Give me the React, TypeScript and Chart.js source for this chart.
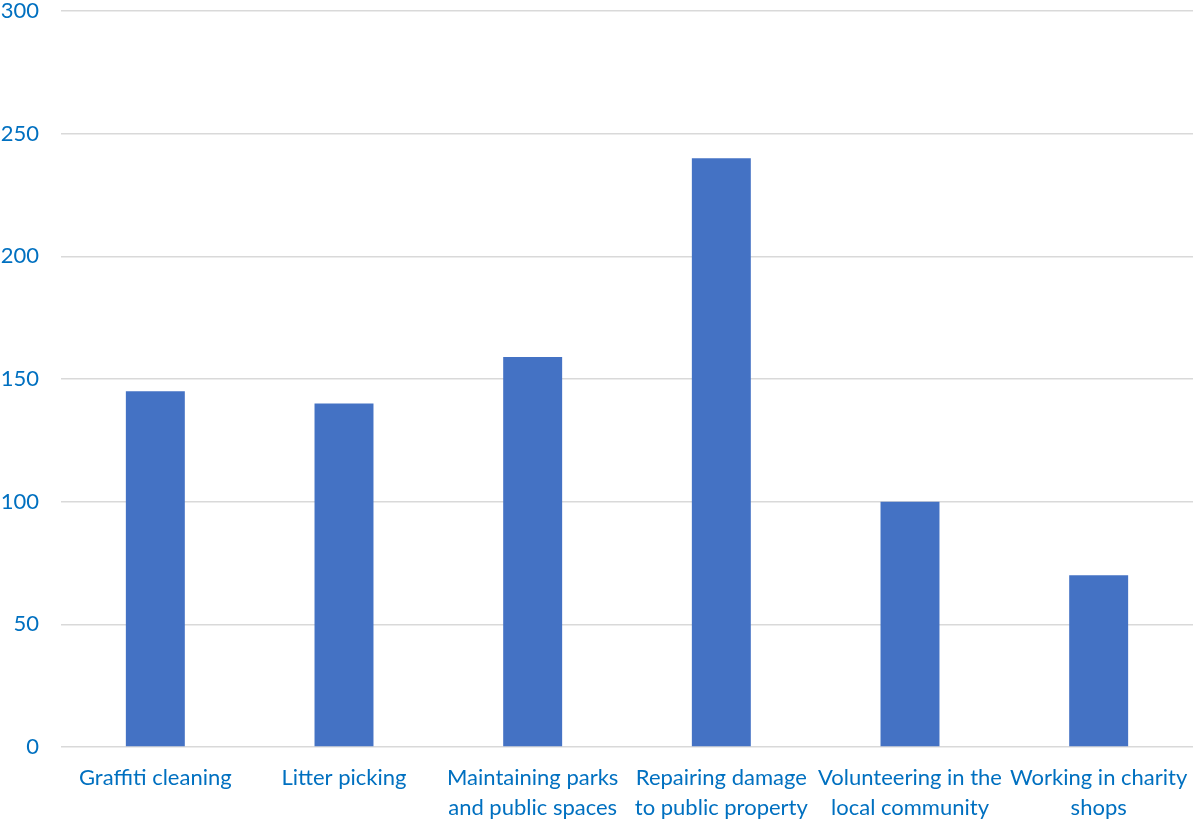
import React, { useEffect, useRef } from "react";
import { Chart, registerables } from "chart.js";

Chart.register(...registerables);

// Activity categories (multi-line where the label wraps)
const categories: string[][] = [
  ["Graffiti cleaning"],
  ["Litter picking"],
  ["Maintaining parks", "and public spaces"],
  ["Repairing damage", "to public property"],
  ["Volunteering in the", "local community"],
  ["Working in charity", "shops"],
];

// Count per activity
const values: number[] = [145, 140, 159, 240, 100, 70];

// Value axis range
const yMin = 0;
const yMax = 300;
const yStep = 50;

const TEXT_COLOR = "#0070C0";
const BAR_COLOR = "#4472C4";
const GRID_COLOR = "#D9D9D9";
const FONT_FAMILY = "Lato, 'Open Sans', sans-serif";

export default function App() {
  const canvasRef = useRef<HTMLCanvasElement | null>(null);

  useEffect(() => {
    document.body.style.margin = "0";
    const canvas = canvasRef.current;
    if (!canvas) return;
    const chart = new Chart(canvas, {
      type: "bar",
      data: {
        labels: categories,
        datasets: [
          {
            data: values,
            backgroundColor: BAR_COLOR,
            borderWidth: 0,
            barPercentage: 0.625,
            categoryPercentage: 0.5,
          },
        ],
      },
      options: {
        animation: false,
        responsive: false,
        maintainAspectRatio: false,
        layout: { padding: 0 },
        plugins: {
          legend: { display: false },
          tooltip: { enabled: false },
        },
        scales: {
          x: {
            grid: { display: false, drawTicks: false },
            border: { display: false },
            ticks: {
              color: TEXT_COLOR,
              font: { family: FONT_FAMILY, size: 22, lineHeight: 1.35 },
              padding: 16,
              maxRotation: 0,
              autoSkip: false,
            },
            afterFit: (scale: any) => {
              scale.height = 74;
              scale.paddingLeft = 0;
              scale.paddingRight = 0;
            },
          },
          y: {
            min: yMin,
            max: yMax,
            grid: { color: GRID_COLOR, lineWidth: 1.5, drawTicks: false },
            border: { display: false },
            ticks: {
              stepSize: yStep,
              color: TEXT_COLOR,
              font: { family: FONT_FAMILY, size: 22 },
              padding: 22,
            },
            afterFit: (scale: any) => {
              scale.width = 61;
              scale.paddingTop = 11;
              scale.paddingBottom = 0;
            },
          },
        },
      },
    });
    return () => chart.destroy();
  }, []);

  return (
    <div style={{ position: "fixed", left: 0, top: 0, width: 1193, height: 821 }}>
      <canvas ref={canvasRef} width={1193} height={821} />
    </div>
  );
}
